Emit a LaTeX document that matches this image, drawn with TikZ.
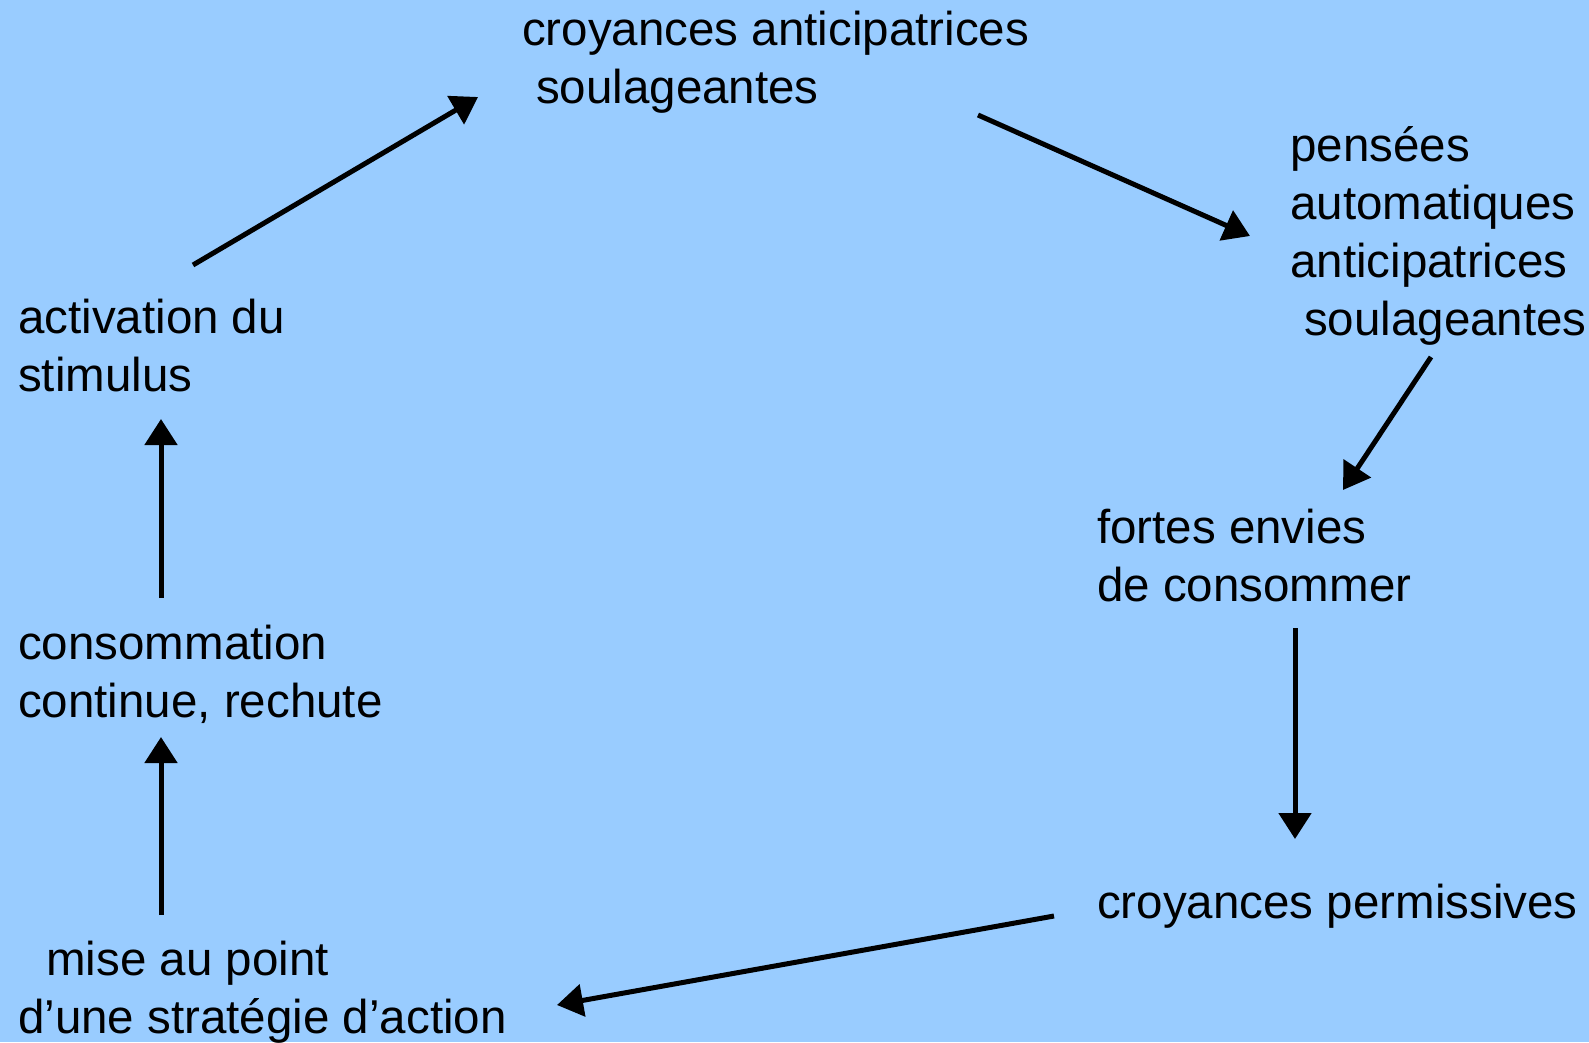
\documentclass[tikz,border=0pt]{standalone}
\usepackage{fontspec}
\setmainfont{Liberation Sans}
\usetikzlibrary{arrows.meta}
\definecolor{bgblue}{RGB}{153,204,255}
\tikzset{
  lbl/.style={anchor=base west, inner sep=0pt, align=left, font=\fontsize{47.5}{58}\selectfont},
  arr/.style={line width=5pt, -{Triangle[length=26pt,width=32pt]}}
}
\begin{document}
\begin{tikzpicture}[x=1pt,y=-1pt]
\fill[bgblue] (0,0) rectangle (1589,1042);
\useasboundingbox (0,0) rectangle (1589,1042);
% anchor = baseline of the last line of each text
\node[lbl] (t1) at (522,103) {croyances anticipatrices\\\hspace*{14pt}soulageantes};
\node[lbl] (t2) at (1290,335) {pensées\\automatiques\\anticipatrices\\\hspace*{14pt}soulageantes};
\node[lbl] (t3) at (18,391) {activation du\\stimulus};
\node[lbl] (t4) at (1097,601) {fortes envies\\de consommer};
\node[lbl] (t5) at (18,717) {consommation\\continue, rechute};
\node[lbl] (t6) at (1097,918) {croyances permissives};
\node[lbl] (t7) at (18,1033) {\hspace*{28pt}mise au point\\d’une stratégie d’action};
\coordinate (a1s) at (193,265); \coordinate (a1e) at (478,97);
\coordinate (a2s) at (978,115); \coordinate (a2e) at (1250,236);
\coordinate (a3s) at (1431,357); \coordinate (a3e) at (1343,490);
\coordinate (a4s) at (1295,628); \coordinate (a4e) at (1295,839);
\coordinate (a5s) at (1054,916); \coordinate (a5e) at (557,1005);
\coordinate (a6s) at (161,915); \coordinate (a6e) at (161,737);
\coordinate (a7s) at (161,598); \coordinate (a7e) at (161,419);
\draw[arr] (a1s) -- (a1e);
\draw[arr] (a2s) -- (a2e);
\draw[arr] (a3s) -- (a3e);
\draw[arr] (a4s) -- (a4e);
\draw[arr] (a5s) -- (a5e);
\draw[arr] (a6s) -- (a6e);
\draw[arr] (a7s) -- (a7e);
\end{tikzpicture}
\end{document}
